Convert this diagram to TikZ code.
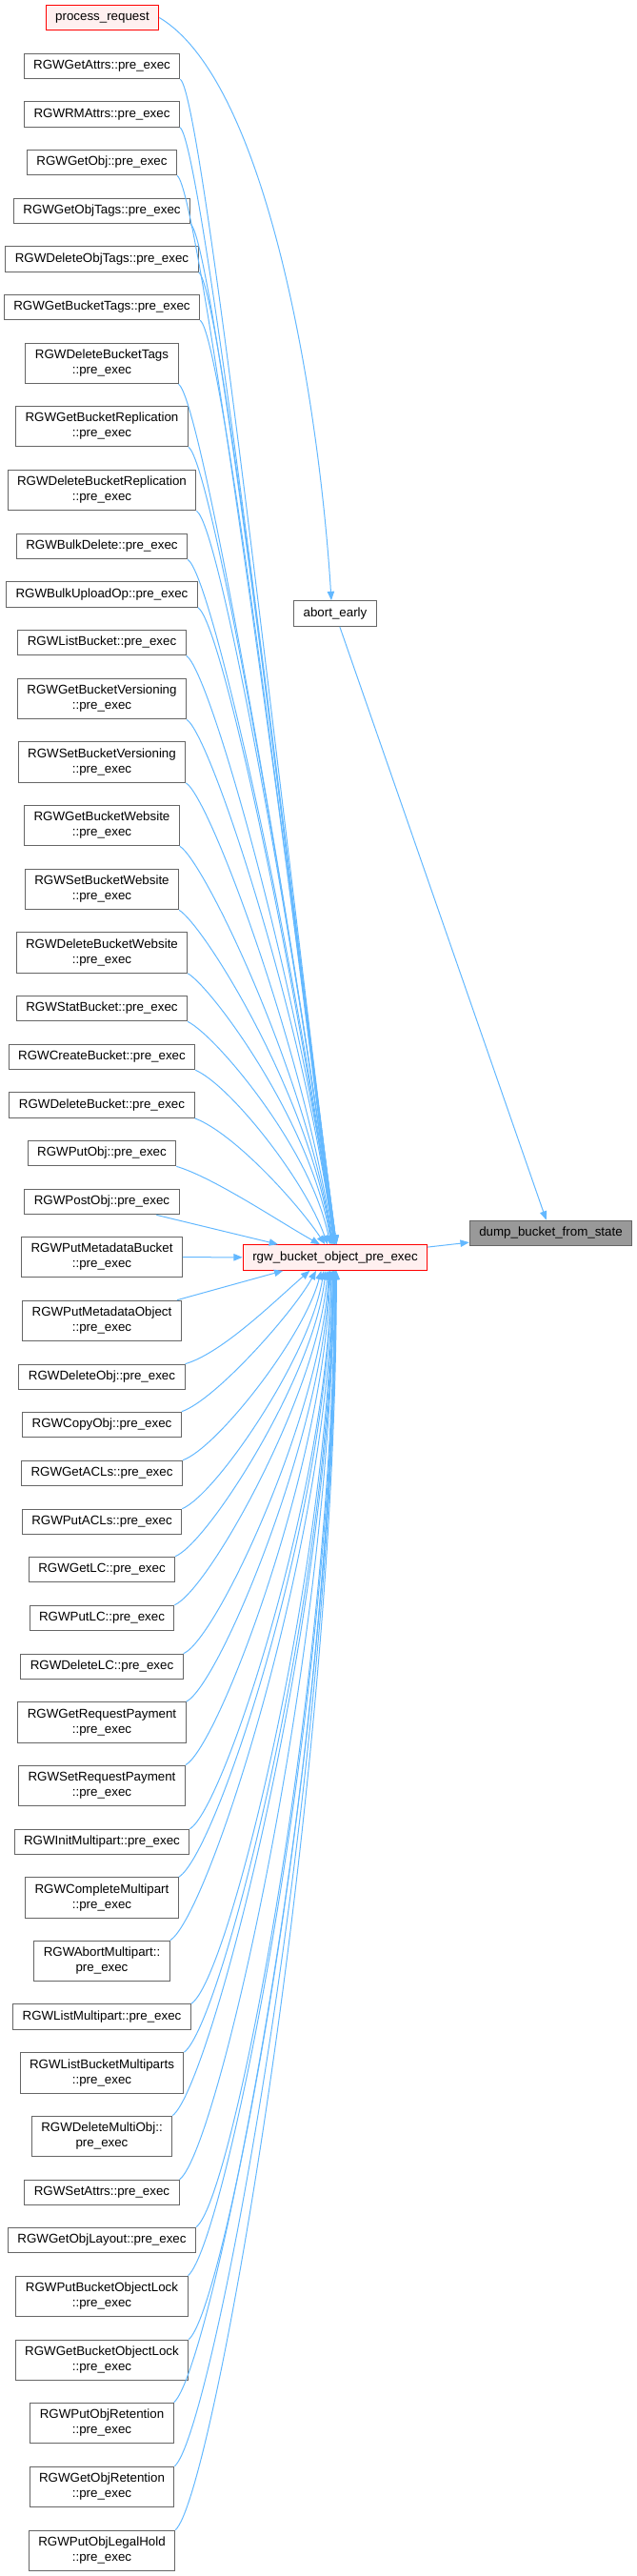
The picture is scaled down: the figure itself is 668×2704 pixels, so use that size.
\documentclass[tikz,border=0pt]{standalone}
\usepackage{fontspec}
\setmainfont{Liberation Sans}
\usepackage{tikz}
\usepackage{xcolor}
\usetikzlibrary{arrows.meta}
\definecolor{callblue}{HTML}{63B8FF}
\definecolor{boxgray}{HTML}{666666}
\definecolor{rootgray}{HTML}{999999}
\definecolor{hotfill}{HTML}{FFF0F0}

\begin{document}
\begin{tikzpicture}[x=0.75pt,y=-0.75pt,
  >={Triangle[length=7pt,width=5.5pt]},
  fn/.style={draw=boxgray,fill=white,line width=0.75pt,font=\fontsize{10}{12}\selectfont,inner xsep=7.5pt,inner ysep=2pt,minimum height=20pt,align=center},
  twoline/.style={minimum height=32pt},
  hot/.style={draw=red,fill=hotfill},
  root/.style={fill=rootgray},
  call/.style={draw=callblue,line width=0.75pt}]
\useasboundingbox (0,0) rectangle (668,2704);
\node[fn,hot] (procreq) at (107.5,18.5) {process\_request};
\node[fn] (getattrs) at (107,69.5) {RGWGetAttrs::pre\_exec};
\node[fn] (rmattrs) at (107,120) {RGWRMAttrs::pre\_exec};
\node[fn] (getobj) at (107,170.5) {RGWGetObj::pre\_exec};
\node[fn] (getobjtags) at (107,221.5) {RGWGetObjTags::pre\_exec};
\node[fn] (delobjtags) at (107,272) {RGWDeleteObjTags::pre\_exec};
\node[fn] (getbuckettags) at (107,322.5) {RGWGetBucketTags::pre\_exec};
\node[fn,twoline] (delbuckettags) at (107,381.5) {RGWDeleteBucketTags\\::pre\_exec};
\node[fn,twoline] (getbucketrepl) at (107,447.5) {RGWGetBucketReplication\\::pre\_exec};
\node[fn,twoline] (delbucketrepl) at (107,514.5) {RGWDeleteBucketReplication\\::pre\_exec};
\node[fn] (bulkdelete) at (107,573.5) {RGWBulkDelete::pre\_exec};
\node[fn] (bulkupload) at (107,624) {RGWBulkUploadOp::pre\_exec};
\node[fn] (listbucket) at (107,674.5) {RGWListBucket::pre\_exec};
\node[fn,twoline] (getbucketver) at (107,733.5) {RGWGetBucketVersioning\\::pre\_exec};
\node[fn,twoline] (setbucketver) at (107,800) {RGWSetBucketVersioning\\::pre\_exec};
\node[fn,twoline] (getbucketweb) at (107,866.5) {RGWGetBucketWebsite\\::pre\_exec};
\node[fn,twoline] (setbucketweb) at (107,933.5) {RGWSetBucketWebsite\\::pre\_exec};
\node[fn,twoline] (delbucketweb) at (107,1000) {RGWDeleteBucketWebsite\\::pre\_exec};
\node[fn] (statbucket) at (107,1058.5) {RGWStatBucket::pre\_exec};
\node[fn] (createbucket) at (107,1109.5) {RGWCreateBucket::pre\_exec};
\node[fn] (delbucket) at (107,1160) {RGWDeleteBucket::pre\_exec};
\node[fn] (putobj) at (107,1210.5) {RGWPutObj::pre\_exec};
\node[fn] (postobj) at (107,1261.5) {RGWPostObj::pre\_exec};
\node[fn,twoline] (putmetabucket) at (107,1319.5) {RGWPutMetadataBucket\\::pre\_exec};
\node[fn,twoline] (putmetaobj) at (107,1386.5) {RGWPutMetadataObject\\::pre\_exec};
\node[fn] (delobj) at (107,1445.5) {RGWDeleteObj::pre\_exec};
\node[fn] (copyobj) at (107,1495.5) {RGWCopyObj::pre\_exec};
\node[fn] (getacls) at (107,1546.5) {RGWGetACLs::pre\_exec};
\node[fn] (putacls) at (107,1597.5) {RGWPutACLs::pre\_exec};
\node[fn] (getlc) at (107,1647.5) {RGWGetLC::pre\_exec};
\node[fn] (putlc) at (107,1698.5) {RGWPutLC::pre\_exec};
\node[fn] (dellc) at (107,1749.5) {RGWDeleteLC::pre\_exec};
\node[fn,twoline] (getreqpay) at (107,1808) {RGWGetRequestPayment\\::pre\_exec};
\node[fn,twoline] (setreqpay) at (107,1874.5) {RGWSetRequestPayment\\::pre\_exec};
\node[fn] (initmulti) at (107,1933.5) {RGWInitMultipart::pre\_exec};
\node[fn,twoline] (completemulti) at (107,1992) {RGWCompleteMultipart\\::pre\_exec};
\node[fn,twoline] (abortmulti) at (107,2058.5) {RGWAbortMultipart::\\pre\_exec};
\node[fn] (listmulti) at (107,2117) {RGWListMultipart::pre\_exec};
\node[fn,twoline] (listbucketmulti) at (107,2176) {RGWListBucketMultiparts\\::pre\_exec};
\node[fn,twoline] (delmultiobj) at (107,2242.5) {RGWDeleteMultiObj::\\pre\_exec};
\node[fn] (setattrs) at (107,2301.5) {RGWSetAttrs::pre\_exec};
\node[fn] (getobjlayout) at (107,2351.5) {RGWGetObjLayout::pre\_exec};
\node[fn,twoline] (putbucketlock) at (107,2410.5) {RGWPutBucketObjectLock\\::pre\_exec};
\node[fn,twoline] (getbucketlock) at (107,2477.5) {RGWGetBucketObjectLock\\::pre\_exec};
\node[fn,twoline] (putobjret) at (107,2543.5) {RGWPutObjRetention\\::pre\_exec};
\node[fn,twoline] (getobjret) at (107,2610.5) {RGWGetObjRetention\\::pre\_exec};
\node[fn,twoline] (putobjhold) at (107,2677.5) {RGWPutObjLegalHold\\::pre\_exec};
\node[fn] (abort) at (352,644) {abort\_early};
\node[fn,hot] (rgw) at (352,1320) {rgw\_bucket\_object\_pre\_exec};
\node[fn,root] (dump) at (578.5,1294.5) {dump\_bucket\_from\_state};
% callers above rgw
\draw[->,call] (procreq.east) .. controls +(113,67) and +(-13,-210) .. ([xshift=-3pt]abort.north);
\draw[->,call] (getattrs.south east) .. controls +(25,15) and +(-40,-300) .. ([xshift=1pt]rgw.north);
\draw[->,call] (rmattrs.south east) .. controls +(25,15) and +(-40,-300) .. ([xshift=1pt]rgw.north);
\draw[->,call] (getobj.south east) .. controls +(25,15) and +(-40,-300) .. ([xshift=1pt]rgw.north);
\draw[->,call] (getobjtags.south east) .. controls +(25,15) and +(-40,-300) .. ([xshift=1pt]rgw.north);
\draw[->,call] (delobjtags.south east) .. controls +(25,15) and +(-40,-300) .. (rgw.north);
\draw[->,call] (getbuckettags.south east) .. controls +(25,15) and +(-40,-300) .. (rgw.north);
\draw[->,call] (delbuckettags.south east) .. controls +(25,15) and +(-40,-300) .. (rgw.north);
\draw[->,call] (getbucketrepl.south east) .. controls +(25,15) and +(-40,-300) .. (rgw.north);
\draw[->,call] (delbucketrepl.south east) .. controls +(25,15) and +(-40,-300) .. (rgw.north);
\draw[->,call] (bulkdelete.south east) .. controls +(25,15) and +(-40,-300) .. ([xshift=-0.5pt]rgw.north);
\draw[->,call] (bulkupload.south east) .. controls +(25,15) and +(-40,-280) .. ([xshift=-0.5pt]rgw.north);
\draw[->,call] (listbucket.south east) .. controls +(25,15) and +(-35,-260) .. ([xshift=-0.5pt]rgw.north);
\draw[->,call] (getbucketver.south east) .. controls +(25,15) and +(-30,-230) .. ([xshift=-1pt]rgw.north);
\draw[->,call] (setbucketver.south east) .. controls +(25,15) and +(-30,-200) .. ([xshift=-1.5pt]rgw.north);
\draw[->,call] (getbucketweb.south east) .. controls +(25,15) and +(-28,-180) .. ([xshift=-2pt]rgw.north);
\draw[->,call] (setbucketweb.south east) .. controls +(25,15) and +(-25,-160) .. ([xshift=-2.5pt]rgw.north);
\draw[->,call] (delbucketweb.south east) .. controls +(25,15) and +(-22,-130) .. ([xshift=-3pt]rgw.north);
\draw[->,call] (statbucket.south east) .. controls +(30,15) and +(-20,-100) .. ([xshift=-4pt]rgw.north);
\draw[->,call] (createbucket.south east) .. controls +(35,15) and +(-25,-70) .. ([xshift=-6pt]rgw.north);
\draw[->,call] (delbucket.south east) .. controls +(40,15) and +(-30,-45) .. ([xshift=-8pt]rgw.north);
\draw[->,call] (putobj.south east) .. controls +(40,12) and +(-40,-22) .. ([xshift=-12pt]rgw.north);
\draw[->,call] (postobj) -- ([xshift=-45pt]rgw.north);
\draw[->,call] (putmetabucket) -- (rgw);
% callers below rgw
\draw[->,call] (putmetaobj) -- ([xshift=-41pt]rgw.south);
\draw[->,call] (delobj.north east) .. controls +(40,-12) and +(-35,30) .. ([xshift=-20pt]rgw.south);
\draw[->,call] (copyobj.north east) .. controls +(35,-12) and +(-25,45) .. ([xshift=-15pt]rgw.south);
\draw[->,call] (getacls.north east) .. controls +(35,-12) and +(-18,70) .. ([xshift=-11pt]rgw.south);
\draw[->,call] (putacls.north east) .. controls +(35,-14) and +(-14,90) .. ([xshift=-9pt]rgw.south);
\draw[->,call] (getlc.north east) .. controls +(35,-15) and +(-12,110) .. ([xshift=-7.5pt]rgw.south);
\draw[->,call] (putlc.north east) .. controls +(35,-15) and +(-10,130) .. ([xshift=-6pt]rgw.south);
\draw[->,call] (dellc.north east) .. controls +(35,-15) and +(-8,150) .. ([xshift=-5pt]rgw.south);
\draw[->,call] (getreqpay.north east) .. controls +(35,-18) and +(-6,170) .. ([xshift=-4.5pt]rgw.south);
\draw[->,call] (setreqpay.north east) .. controls +(35,-20) and +(-5,200) .. ([xshift=-4pt]rgw.south);
\draw[->,call] (initmulti.north east) .. controls +(35,-20) and +(-4,230) .. ([xshift=-3pt]rgw.south);
\draw[->,call] (completemulti.north east) .. controls +(40,-25) and +(-3,250) .. ([xshift=-3pt]rgw.south);
\draw[->,call] (abortmulti.north east) .. controls +(40,-25) and +(-3,280) .. ([xshift=-2pt]rgw.south);
\draw[->,call] (listmulti.north east) .. controls +(40,-25) and +(-2,300) .. ([xshift=-2pt]rgw.south);
\draw[->,call] (listbucketmulti.north east) .. controls +(40,-30) and +(-2,330) .. ([xshift=-1.5pt]rgw.south);
\draw[->,call] (delmultiobj.north east) .. controls +(40,-30) and +(-2,360) .. ([xshift=-1pt]rgw.south);
\draw[->,call] (setattrs.north east) .. controls +(40,-30) and +(-2,390) .. ([xshift=-1pt]rgw.south);
\draw[->,call] (getobjlayout.north east) .. controls +(40,-30) and +(0,410) .. ([xshift=-0.5pt]rgw.south);
\draw[->,call] (putbucketlock.north east) .. controls +(40,-35) and +(0,440) .. (rgw.south);
\draw[->,call] (getbucketlock.north east) .. controls +(40,-35) and +(0,470) .. (rgw.south);
\draw[->,call] (putobjret.north east) .. controls +(40,-35) and +(0,500) .. ([xshift=0.5pt]rgw.south);
\draw[->,call] (getobjret.north east) .. controls +(40,-35) and +(0,520) .. ([xshift=0.5pt]rgw.south);
\draw[->,call] (putobjhold.north east) .. controls +(40,-35) and +(0,540) .. ([xshift=1pt]rgw.south);
% rgw and abort_early into the root
\draw[->,call] (abort) -- (dump);
\draw[->,call] (rgw) -- (dump);
\end{tikzpicture}
\end{document}
